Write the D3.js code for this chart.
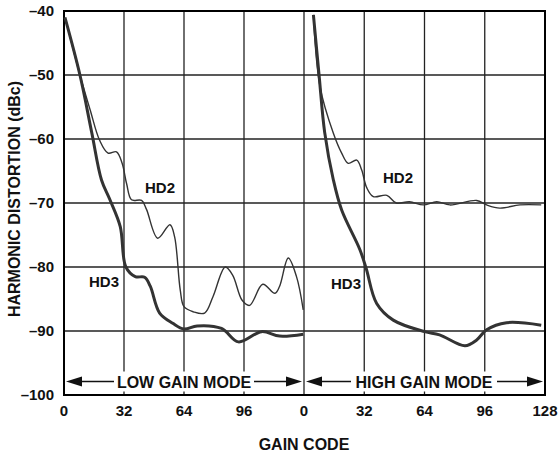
<!DOCTYPE html>
<html>
<head>
<meta charset="utf-8">
<script src="https://cdn.jsdelivr.net/npm/d3@7"></script>
<style>
  body { margin: 0; background: #fff; }
  text { font-family: "Liberation Sans", Arial, sans-serif; font-weight: bold; fill: #111; }
</style>
</head>
<body>
<div id="chart"></div>
<script>
// gain codes and distortion readings, low gain mode
var lowHd2Code = [1, 8.5, 14, 19, 23.5, 28, 31, 33.4, 36, 41.4, 44, 50, 56.5, 59, 62, 64, 69, 75, 79.5, 86, 90, 95, 99, 106, 112.5, 115, 119.6, 124, 127.6];
var lowHd2 = [-41.4, -50, -55.5, -60.2, -62.2, -62, -63.8, -67, -69.5, -69.6, -71, -75.5, -73.4, -75.3, -83.6, -86.2, -87, -87.2, -84.6, -80, -81.3, -85.2, -86, -82.7, -84.1, -83, -78.6, -81.5, -86.7];
var lowHd3Code = [0.5, 8.5, 14.8, 20, 24.5, 30, 33, 38, 43, 46, 51, 58, 64, 71, 84, 93, 105.4, 115, 127.6];
var lowHd3 = [-41, -50, -59, -66.4, -69.5, -73.7, -80, -81.5, -81.6, -83, -87.2, -88.8, -89.7, -89.2, -89.6, -91.7, -90.1, -90.8, -90.5];

// high gain mode
var highHd2Code = [5, 8.5, 15.6, 20, 23.5, 28, 30.6, 33.3, 36.8, 44, 49, 56, 63.4, 70.5, 77.5, 91.7, 97, 104, 114.7, 126];
var highHd2 = [-40.6, -51.8, -59.1, -62.2, -63.8, -63.3, -64.8, -67.6, -69, -68.8, -70, -69.8, -70.3, -69.8, -70.3, -69.6, -70.3, -70.8, -70.3, -70.3];
var highHd3Code = [5, 8, 11, 15.6, 20, 29.7, 33, 38.6, 47.4, 64, 72, 85.5, 91.7, 97, 107.6, 126];
var highHd3 = [-40.6, -50, -59, -66.4, -71.1, -77.3, -80.2, -85.7, -88.3, -90.1, -90.6, -92.3, -91.4, -89.8, -88.7, -89.1];

var lowTicks = [0, 32, 64, 96];
var highTicks = [0, 32, 64, 96, 128];
var yTicks = [-40, -50, -60, -70, -80, -90, -100];

var W = 559, H = 452;
var pL = 64, pR = 545, pMid = 304, pT = 11, pB = 395;

var svg = d3.select('#chart').append('svg')
  .attr('width', W).attr('height', H);

var xLow = d3.scaleLinear().domain([0, 128]).range([pL, pMid]);
var xHigh = d3.scaleLinear().domain([0, 128]).range([pMid, pR]);
var y = d3.scaleLinear().domain([-100, -40]).range([pB, pT]);

// horizontal grid
svg.append('g').selectAll('line')
  .data(yTicks)
  .enter().append('line')
  .attr('x1', pL).attr('x2', pR)
  .attr('y1', function(d) { return y(d); }).attr('y2', function(d) { return y(d); })
  .attr('stroke', '#222').attr('stroke-width', 1.3);

// vertical grid
var vx = lowTicks.map(function(d) { return xLow(d); }).concat(highTicks.map(function(d) { return xHigh(d); }));
svg.append('g').selectAll('line')
  .data(vx)
  .enter().append('line')
  .attr('x1', function(d) { return d; }).attr('x2', function(d) { return d; })
  .attr('y1', pT).attr('y2', pB)
  .attr('stroke', '#222').attr('stroke-width', 1.3);

// frame
svg.append('rect')
  .attr('x', pL).attr('y', pT)
  .attr('width', pR - pL).attr('height', pB - pT)
  .attr('fill', 'none').attr('stroke', '#000').attr('stroke-width', 2);

// y tick labels
svg.append('g').selectAll('text')
  .data(yTicks)
  .enter().append('text')
  .attr('x', 54).attr('y', function(d) { return y(d) + 5; })
  .attr('text-anchor', 'end').style('font-size', '15px')
  .text(function(d) { return '\u2013' + Math.abs(d); });

// x tick labels
var xl = lowTicks.map(function(d) { return { v: d, x: xLow(d) }; })
  .concat(highTicks.map(function(d) { return { v: d, x: xHigh(d) }; }));
svg.append('g').selectAll('text')
  .data(xl)
  .enter().append('text')
  .attr('x', function(d) { return d.x; }).attr('y', 416)
  .attr('text-anchor', 'middle').style('font-size', '15px')
  .text(function(d) { return d.v; });

// axis titles
svg.append('text')
  .attr('transform', 'translate(20,199) rotate(-90)')
  .attr('text-anchor', 'middle').style('font-size', '16px')
  .text('HARMONIC DISTORTION (dBc)');
svg.append('text')
  .attr('x', pMid).attr('y', 450)
  .attr('text-anchor', 'middle').style('font-size', '16px')
  .text('GAIN CODE');

// curves
function draw(xs, codes, vals, w) {
  var line = d3.line()
    .x(function(d, i) { return xs(codes[i]); })
    .y(function(d) { return y(d); })
    .curve(d3.curveCatmullRom.alpha(0.5));
  svg.append('path')
    .datum(vals)
    .attr('d', line)
    .attr('fill', 'none')
    .attr('stroke', '#333')
    .attr('stroke-width', w)
    .attr('stroke-linejoin', 'round');
}
draw(xLow, lowHd2Code, lowHd2, 1.4);
draw(xLow, lowHd3Code, lowHd3, 3);
draw(xHigh, highHd2Code, highHd2, 1.4);
draw(xHigh, highHd3Code, highHd3, 3);

// curve labels
var labels = [
  { t: 'HD2', x: 145, y: 193 },
  { t: 'HD3', x: 89, y: 287 },
  { t: 'HD2', x: 383, y: 183 },
  { t: 'HD3', x: 331, y: 289 }
];
svg.append('g').selectAll('text')
  .data(labels)
  .enter().append('text')
  .attr('x', function(d) { return d.x; }).attr('y', function(d) { return d.y; })
  .style('font-size', '15px')
  .text(function(d) { return d.t; });

// mode arrows
var ay = 381.5;
function arrow(x1, x2, txt, tx, tw) {
  var g = svg.append('g');
  g.append('rect').attr('x', tx - tw / 2 - 3).attr('y', ay - 10).attr('width', tw + 6).attr('height', 20).attr('fill', '#fff');
  g.append('line').attr('x1', x1 + 12).attr('x2', tx - tw / 2 - 3).attr('y1', ay).attr('y2', ay).attr('stroke', '#111').attr('stroke-width', 1.5);
  g.append('line').attr('x1', tx + tw / 2 + 3).attr('x2', x2 - 12).attr('y1', ay).attr('y2', ay).attr('stroke', '#111').attr('stroke-width', 1.5);
  g.append('path').attr('d', 'M' + x1 + ',' + ay + 'L' + (x1 + 16) + ',' + (ay - 5) + 'L' + (x1 + 16) + ',' + (ay + 5) + 'Z').attr('fill', '#111');
  g.append('path').attr('d', 'M' + x2 + ',' + ay + 'L' + (x2 - 16) + ',' + (ay - 5) + 'L' + (x2 - 16) + ',' + (ay + 5) + 'Z').attr('fill', '#111');
  g.append('text').attr('x', tx).attr('y', ay + 6).attr('text-anchor', 'middle').style('font-size', '16px').text(txt);
}
arrow(66, 302, 'LOW GAIN MODE', 184, 134);
arrow(306, 543, 'HIGH GAIN MODE', 424, 140);
</script>
</body>
</html>
